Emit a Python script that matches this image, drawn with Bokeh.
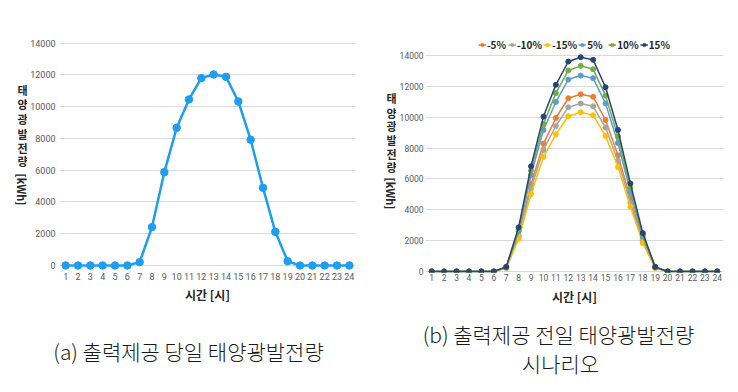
import math
from bokeh.plotting import figure
from bokeh.models import Range1d, FixedTicker, Legend, LegendItem, Label
from bokeh.layouts import column, row
from bokeh.embed import file_html
from bokeh.resources import INLINE
from bokeh.core.properties import value

# ---------------- data ----------------
hours = list(range(1, 25))
hour_labels = [str(h) for h in hours]
y_ticks = [0, 2000, 4000, 6000, 8000, 10000, 12000, 14000]

# (a) actual day PV generation [kWh]
actual = [0, 0, 0, 0, 0, 0, 210, 2420, 5880, 8670, 10460, 11800,
          12030, 11880, 10330, 7920, 4890, 2120, 270, 0, 0, 0, 0, 0]

# (b) day-ahead scenarios [kWh]
scen_names = ["-5%", "-10%", "-15%", "5%", "10%", "15%"]
m5 = [0, 0, 0, 0, 0, 0, 250, 2360, 5650, 8290, 9950, 11230,
      11490, 11320, 9820, 7530, 4740, 2060, 250, 0, 0, 0, 0, 0]
m10 = [0, 0, 0, 0, 0, 0, 235, 2240, 5390, 7880, 9430, 10650,
       10890, 10710, 9330, 7160, 4460, 1950, 235, 0, 0, 0, 0, 0]
m15 = [0, 0, 0, 0, 0, 0, 225, 2100, 5020, 7420, 8890, 10060,
       10320, 10130, 8790, 6770, 4200, 1840, 220, 0, 0, 0, 0, 0]
p5 = [0, 0, 0, 0, 0, 0, 275, 2610, 6250, 9170, 10990, 12440,
      12700, 12530, 10890, 8330, 5150, 2270, 275, 0, 0, 0, 0, 0]
p10 = [0, 0, 0, 0, 0, 0, 290, 2730, 6540, 9560, 11560, 13030,
       13330, 13110, 11400, 8740, 5450, 2380, 290, 0, 0, 0, 0, 0]
p15 = [0, 0, 0, 0, 0, 0, 300, 2860, 6820, 10040, 12100, 13610,
       13890, 13720, 11945, 9175, 5710, 2490, 300, 0, 0, 0, 0, 0]
scen_values = [m5, m10, m15, p5, p10, p15]
scen_colors = ["#ED7D31", "#A5A5A5", "#FFC000", "#5B9BD5", "#70AD47", "#264478"]

y_title_chars = ["태", "양", "광", "발", "전", "량"]
y_title_unit = "[kWh]"
x_title = "시간 [시]"
caption_a = "(a) 출력제공 당일 태양광발전량"
caption_b1 = "(b) 출력제공 전일 태양광발전량"
caption_b2 = "시나리오"

KR = "Noto Sans CJK KR"
KR_LIGHT = "'Noto Sans CJK KR Light', 'Noto Sans CJK KR'"
NUM = "Roboto"
GRID = "#D9D9D9"
TICK = "#595959"
TITLE = "#262626"

H = 310            # chart row height
TOP, BOT = 32, 38  # common frame borders (frames are aligned in the row)


def style(p, tick_size, x_standoff, title_standoff, y_standoff):
    p.outline_line_color = None
    p.xgrid.grid_line_color = None
    p.ygrid.grid_line_color = GRID
    p.ygrid.ticker = FixedTicker(ticks=y_ticks)
    xa = p.xaxis[0]
    xa.ticker = FixedTicker(ticks=hours)
    xa.major_label_overrides = {h: s for h, s in zip(hours, hour_labels)}
    xa.axis_line_color = None
    xa.major_tick_line_color = None
    xa.minor_tick_line_color = None
    xa.major_label_text_font = NUM
    xa.major_label_text_font_size = tick_size
    xa.major_label_text_color = TICK
    xa.major_label_standoff = x_standoff
    xa.axis_label = x_title
    xa.axis_label_text_font = KR
    xa.axis_label_text_font_style = "bold"
    xa.axis_label_text_font_size = "12px"
    xa.axis_label_text_color = TITLE
    xa.axis_label_standoff = title_standoff
    ya = p.yaxis[0]
    ya.ticker = FixedTicker(ticks=y_ticks)
    ya.axis_line_color = None
    ya.major_tick_line_color = None
    ya.minor_tick_line_color = None
    ya.major_tick_out = 0
    ya.major_tick_in = 0
    ya.minor_tick_out = 0
    ya.minor_tick_in = 0
    ya.major_label_text_font = NUM
    ya.major_label_text_font_size = tick_size
    ya.major_label_text_color = TICK
    ya.major_label_standoff = y_standoff


def title_strip(width, cx, char_ys, unit_y):
    # vertical, stacked y-axis title drawn in a narrow strip left of the chart
    t = figure(width=width, height=H, output_backend="svg", toolbar_location=None,
               x_range=Range1d(0, width), y_range=Range1d(0, H - TOP - BOT),
               min_border_left=0, min_border_right=0, min_border_top=TOP, min_border_bottom=BOT)
    t.outline_line_color = None
    t.axis.visible = False
    t.grid.visible = False
    t.text(x=[cx] * len(y_title_chars), y=char_ys, text=y_title_chars,
           text_font=value(KR), text_font_style="bold", text_font_size="11px",
           text_color=TITLE, text_align="center", text_baseline="middle")
    t.add_layout(Label(x=cx - 1, y=unit_y, text=y_title_unit, angle=-math.pi / 2,
                       text_font=KR, text_font_style="bold", text_font_size="11px",
                       text_color=TITLE, text_align="center", text_baseline="middle"))
    return t


# ---------------- (a) ----------------
pt1 = title_strip(27, 22, [183, 169, 154, 139, 125, 112], 83)
p1 = figure(width=343, height=H, output_backend="svg", toolbar_location=None,
            x_range=Range1d(0.5, 24.5), y_range=Range1d(-441, 14674),
            min_border_left=30, min_border_right=15, min_border_top=TOP, min_border_bottom=BOT)
style(p1, "9px", -6, 3, 4)
p1.line(hours, actual, line_color="#1E9EF2", line_width=2.5)
p1.scatter(hours, actual, size=7.5, fill_color="#1E9EF2", line_color="#1E9EF2")

# ---------------- (b) ----------------
pt2 = title_strip(26, 21, [175, 160, 147, 133, 119, 106], 79)
p2 = figure(width=342, height=H, output_backend="svg", toolbar_location=None,
            x_range=Range1d(0.5, 24.5), y_range=Range1d(-65, 15491),
            min_border_left=26, min_border_right=15, min_border_top=TOP, min_border_bottom=BOT)
style(p2, "8.5px", -5, 4, 2)
items = []
for name, vals, col in zip(scen_names, scen_values, scen_colors):
    ln = p2.line(hours, vals, line_color=col, line_width=1.5)
    sc = p2.scatter(hours, vals, size=5, fill_color=col, line_color=col)
    items.append(LegendItem(label=name, renderers=[ln, sc]))
legend = Legend(items=items, orientation="horizontal", location="top_center",
                border_line_color=None, background_fill_alpha=0,
                label_text_font=KR, label_text_font_style="bold",
                label_text_font_size="10px", label_text_color=TITLE,
                glyph_width=8, glyph_height=9, label_standoff=1, spacing=1,
                padding=0, margin=5)
p2.add_layout(legend)

# ---------------- captions ----------------
pc = figure(width=738, height=392 - H, output_backend="svg", toolbar_location=None,
            x_range=Range1d(0, 738), y_range=Range1d(0, 392 - H), min_border=0)
pc.outline_line_color = None
pc.axis.visible = False
pc.grid.visible = False
pc.text(x=[188, 558, 560], y=[42, 59, 30], text=[caption_a, caption_b1, caption_b2],
        text_font=value(KR_LIGHT), text_font_size="21px", text_color="#1a1a1a",
        text_align="center", text_baseline="middle")

layout = column(row(pt1, p1, pt2, p2), pc)
open("out.html", "w").write(file_html(layout, INLINE))
